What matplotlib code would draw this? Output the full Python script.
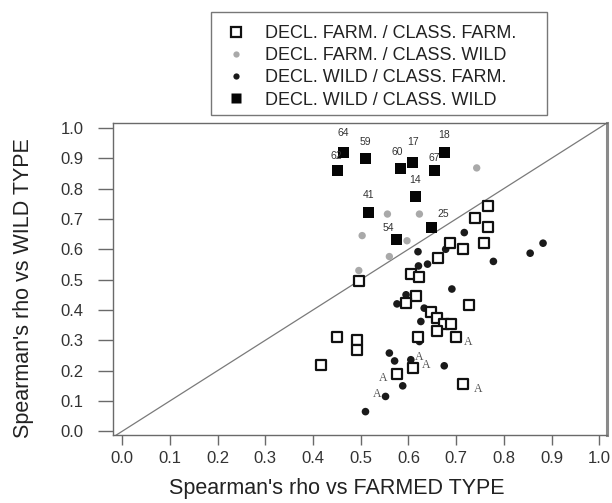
import matplotlib
matplotlib.use("Agg")
import matplotlib.pyplot as plt
from matplotlib.lines import Line2D
from matplotlib.patches import Rectangle

# ---- data ----
# DECL. FARM. / CLASS. FARM. (open squares)
ff_x = [0.766, 0.740, 0.766, 0.759, 0.714, 0.688, 0.661, 0.606, 0.623, 0.497,
        0.616, 0.595, 0.648, 0.727, 0.660, 0.675, 0.689, 0.660, 0.700, 0.621,
        0.450, 0.492, 0.492, 0.417, 0.575, 0.609, 0.714]
ff_y = [0.744, 0.702, 0.673, 0.620, 0.600, 0.620, 0.571, 0.519, 0.507, 0.497,
        0.447, 0.424, 0.393, 0.415, 0.373, 0.353, 0.353, 0.332, 0.310, 0.310,
        0.310, 0.301, 0.268, 0.218, 0.188, 0.208, 0.157]

# DECL. FARM. / CLASS. WILD (grey dots)
fw_x = [0.743, 0.556, 0.623, 0.503, 0.597, 0.560, 0.496]
fw_y = [0.868, 0.716, 0.716, 0.645, 0.628, 0.576, 0.530]

# DECL. WILD / CLASS. FARM. (black dots)
wf_x = [0.717, 0.620, 0.882, 0.855, 0.778, 0.621, 0.640, 0.678, 0.691, 0.595,
        0.576, 0.633, 0.626, 0.623, 0.560, 0.571, 0.605, 0.675, 0.588, 0.552,
        0.510]
wf_y = [0.655, 0.592, 0.620, 0.587, 0.560, 0.545, 0.551, 0.600, 0.469, 0.450,
        0.420, 0.406, 0.362, 0.296, 0.258, 0.232, 0.236, 0.216, 0.150, 0.115,
        0.065]

# DECL. WILD / CLASS. WILD (filled squares) with sample numbers
ww_x = [0.464, 0.451, 0.510, 0.583, 0.609, 0.675, 0.654, 0.614, 0.517, 0.575, 0.649]
ww_y = [0.920, 0.858, 0.899, 0.866, 0.887, 0.919, 0.858, 0.774, 0.722, 0.632, 0.673]
ww_labels = ["64", "62", "59", "60", "17", "18", "67", "14", "41", "54", "25"]

# "A" marks
a_x = [0.726, 0.746, 0.548, 0.534, 0.623, 0.637]
a_y = [0.296, 0.140, 0.175, 0.123, 0.245, 0.218]

ticks = [0.0, 0.1, 0.2, 0.3, 0.4, 0.5, 0.6, 0.7, 0.8, 0.9, 1.0]
tick_labels = ["0.0", "0.1", "0.2", "0.3", "0.4", "0.5", "0.6", "0.7", "0.8", "0.9", "1.0"]
legend_labels = ["DECL. FARM. / CLASS. FARM.", "DECL. FARM. / CLASS. WILD",
                 "DECL. WILD / CLASS. FARM.", "DECL. WILD / CLASS. WILD"]
xlabel = "Spearman's rho vs FARMED TYPE"
ylabel = "Spearman's rho vs WILD TYPE"

# label offsets (points) for the numbers
lab_off = {"64": (0, 10), "62": (-1, 7), "59": (0, 8), "60": (-2, 8.5), "17": (0, 11),
           "18": (0, 9), "67": (0, 6), "14": (0, 8), "41": (0, 9), "54": (-6, 5),
           "25": (8, 5.5)}

plt.rcParams['font.family'] = ['Liberation Sans', 'DejaVu Sans']

W, H = 612, 503
fig = plt.figure(figsize=(W/100, H/100), dpi=100)
ax = fig.add_axes([113/W, 1 - 435/H, (607-113)/W, (435-123)/H])
ax.set_xlim(-0.019, 1.016)
ax.set_ylim(-0.012, 1.016)

spine_c = "#6a6a6a"
for s in ["left", "bottom", "top"]:
    ax.spines[s].set_color(spine_c)
    ax.spines[s].set_linewidth(1.0)
ax.spines["right"].set_color("#8a8a8a")
ax.spines["right"].set_linewidth(2.2)

# diagonal
ax.plot([-0.05, 1.05], [-0.05, 1.05], color="#7a7a7a", lw=0.9, zorder=1)

ax.scatter(fw_x, fw_y, s=28, color="#a9a9a9", edgecolors="none", zorder=3)
ax.scatter(wf_x, wf_y, s=30, color="#1a1a1a", edgecolors="none", zorder=3)
ax.scatter(ff_x, ff_y, s=62, marker="s", facecolors="white", edgecolors="#111111",
           linewidths=1.6, zorder=4)
ax.scatter(ww_x, ww_y, s=62, marker="s", color="#050505", edgecolors="none", zorder=4)

for x, y, t in zip(ww_x, ww_y, ww_labels):
    dx, dy = lab_off[t]
    ax.annotate(t, (x, y), xytext=(dx, dy), textcoords="offset points",
                ha="center", va="bottom", fontsize=7.5, color="#333333", zorder=5)

for x, y in zip(a_x, a_y):
    ax.text(x, y, "A", fontsize=8.5, family="Liberation Serif", color="#555555",
            ha="center", va="center", zorder=5)

ax.set_xticks(ticks)
ax.set_xticklabels(tick_labels)
ax.set_yticks(ticks)
ax.set_yticklabels(tick_labels)
ax.tick_params(axis="x", length=7.5, width=1.0, color=spine_c, pad=4,
               labelsize=12, labelcolor="#333333")
ax.tick_params(axis="y", length=11, width=1.0, color=spine_c, pad=10,
               labelsize=12, labelcolor="#333333")

ax.set_xlabel(xlabel, fontsize=15.5, color="#222222")
ax.set_ylabel(ylabel, fontsize=15.5, color="#222222")
ax.xaxis.set_label_coords((337-113)/494, (435-478)/312)
ax.yaxis.set_label_coords((34-113)/494, (435-288)/312)

handles = [
    Line2D([], [], ls="none", marker="s", markersize=7, markerfacecolor="white",
           markeredgecolor="#111111", markeredgewidth=1.6),
    Line2D([], [], ls="none", marker="o", markersize=4.5, markerfacecolor="#a9a9a9",
           markeredgecolor="none"),
    Line2D([], [], ls="none", marker="o", markersize=4.5, markerfacecolor="#1a1a1a",
           markeredgecolor="none"),
    Line2D([], [], ls="none", marker="s", markersize=7.5, markerfacecolor="#050505",
           markeredgecolor="none"),
]
leg = fig.legend(handles, legend_labels, loc="upper left",
                 bbox_to_anchor=(225/W, 1 - 25/H), fontsize=13,
                 frameon=False, handlelength=1.2, handletextpad=1.0,
                 labelspacing=0.29, borderpad=0, borderaxespad=0)
for t in leg.get_texts():
    t.set_color("#222222")
fig.patches.append(Rectangle((211/W, 1 - 115/H), (547-211)/W, (115-12)/H,
                             transform=fig.transFigure, fill=False,
                             edgecolor="#777777", linewidth=1.0))

fig.savefig("out.png", dpi=100)
